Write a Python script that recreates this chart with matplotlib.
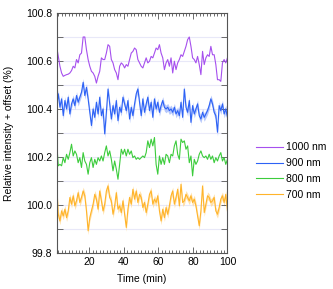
import matplotlib

matplotlib.use("Agg")
import matplotlib.pyplot as plt
import numpy as np
from matplotlib.ticker import MultipleLocator

plt.rcParams["font.family"] = ["Liberation Sans", "DejaVu Sans"]

# Relative intensity traces (one sample per minute-ish)
nm1000 = [100.661, 100.62, 100.578, 100.55, 100.536, 100.54, 100.543, 100.545, 100.55, 100.56,
          100.578, 100.571, 100.606, 100.592, 100.626, 100.633, 100.700, 100.700, 100.647, 100.606,
          100.578, 100.557, 100.550, 100.536, 100.508, 100.536, 100.557, 100.613, 100.606, 100.606,
          100.633, 100.668, 100.661, 100.606, 100.592, 100.564, 100.550, 100.522, 100.578, 100.592,
          100.585, 100.571, 100.585, 100.578, 100.606, 100.633, 100.640, 100.654, 100.647, 100.606,
          100.592, 100.578, 100.571, 100.592, 100.613, 100.592, 100.599, 100.619, 100.613, 100.633,
          100.654, 100.647, 100.668, 100.633, 100.613, 100.564, 100.592, 100.606, 100.578, 100.613,
          100.550, 100.599, 100.564, 100.592, 100.606, 100.626, 100.619, 100.640, 100.661, 100.689,
          100.700, 100.661, 100.613, 100.606, 100.592, 100.619, 100.585, 100.543, 100.640, 100.585,
          100.613, 100.626, 100.619, 100.661, 100.626, 100.626, 100.585, 100.522, 100.522, 100.515,
          100.592, 100.606, 100.592, 100.613]
nm900 = [100.414, 100.463, 100.407, 100.442, 100.372, 100.435, 100.400, 100.449, 100.379, 100.421,
         100.442, 100.414, 100.456, 100.428, 100.449, 100.469, 100.511, 100.456, 100.490, 100.442,
         100.386, 100.331, 100.400, 100.365, 100.428, 100.379, 100.449, 100.372, 100.400, 100.296,
         100.386, 100.483, 100.421, 100.358, 100.414, 100.379, 100.435, 100.351, 100.407, 100.386,
         100.449, 100.421, 100.393, 100.435, 100.358, 100.407, 100.372, 100.421, 100.463, 100.483,
         100.428, 100.372, 100.442, 100.386, 100.421, 100.449, 100.393, 100.428, 100.365, 100.442,
         100.400, 100.428, 100.386, 100.414, 100.435, 100.407, 100.400, 100.407, 100.393, 100.400,
         100.386, 100.407, 100.379, 100.393, 100.372, 100.428, 100.365, 100.483, 100.407, 100.386,
         100.435, 100.344, 100.414, 100.379, 100.400, 100.421, 100.372, 100.358, 100.386, 100.365,
         100.379, 100.393, 100.414, 100.442, 100.421, 100.386, 100.372, 100.303, 100.414, 100.393,
         100.421, 100.379, 100.400, 100.365]
nm800 = [100.267, 100.163, 100.169, 100.163, 100.197, 100.176, 100.211, 100.190, 100.218, 100.253,
         100.204, 100.225, 100.211, 100.176, 100.197, 100.156, 100.218, 100.183, 100.169, 100.128,
         100.176, 100.197, 100.156, 100.190, 100.169, 100.197, 100.183, 100.204, 100.183, 100.218,
         100.246, 100.204, 100.225, 100.190, 100.142, 100.183, 100.149, 100.107, 100.169, 100.232,
         100.211, 100.232, 100.204, 100.232, 100.211, 100.225, 100.197, 100.204, 100.190, 100.197,
         100.190, 100.197, 100.204, 100.197, 100.218, 100.267, 100.239, 100.274, 100.246, 100.281,
         100.169, 100.128, 100.204, 100.169, 100.197, 100.169, 100.211, 100.204, 100.176, 100.211,
         100.204, 100.246, 100.267, 100.211, 100.190, 100.274, 100.260, 100.267, 100.232, 100.246,
         100.176, 100.204, 100.121, 100.190, 100.169, 100.183, 100.211, 100.225, 100.204, 100.197,
         100.204, 100.190, 100.211, 100.190, 100.204, 100.176, 100.197, 100.183, 100.204, 100.218,
         100.183, 100.197, 100.169, 100.190]
nm700 = [100.086, 99.961, 99.933, 99.975, 99.954, 99.982, 99.947, 99.975, 100.031, 100.003,
         100.038, 99.996, 100.017, 100.051, 100.010, 100.031, 100.058, 100.038, 99.975, 99.892,
         99.947, 99.975, 100.003, 100.044, 100.024, 99.982, 100.058, 100.017, 99.975, 100.003,
         100.058, 100.079, 100.031, 100.017, 99.961, 99.996, 100.051, 99.982, 99.996, 99.968,
         100.017, 99.961, 99.906, 99.982, 100.031, 100.003, 100.065, 100.024, 100.058, 100.010,
         100.044, 100.031, 99.989, 100.010, 99.968, 100.003, 100.044, 100.058, 100.003, 100.024,
         100.010, 100.038, 99.975, 99.933, 99.982, 99.947, 99.989, 99.961, 99.996, 100.038,
         100.058, 100.003, 100.031, 100.065, 99.996, 100.086, 100.010, 100.017, 100.044, 100.031,
         100.017, 100.038, 100.010, 100.024, 99.996, 99.954, 99.913, 99.975, 100.079, 99.968,
         100.003, 100.038, 100.031, 100.010, 100.017, 100.031, 99.975, 99.961, 99.989, 100.024,
         100.038, 100.010, 100.044, 99.975]

labels = ["1000 nm", "900 nm", "800 nm", "700 nm"]
colors = ["#a650ee", "#2d62f5", "#3ccc3c", "#ffb42a"]
bands = [None, "#a9befc", None, "#ffdc9c"]

fig = plt.figure(figsize=(3.33, 2.89), dpi=100)
ax = fig.add_axes([0.170, 0.125, 0.513, 0.830])

for yv in np.arange(99.9, 100.75, 0.1):
    ax.axhline(yv, color="#e8e8f8", lw=0.8, zorder=0)

for series, label, color, band in zip([nm1000, nm900, nm800, nm700], labels, colors, bands):
    t = np.linspace(1, 100, len(series))
    y = np.array(series)
    if band is not None:
        ax.fill_between(t, y - 0.016, y + 0.016, color=band, lw=0, alpha=0.85, zorder=1)
    ax.plot(t, y, color=color, lw=0.8, label=label, zorder=2)

ax.set_xlim(1, 100)
ax.set_ylim(99.8, 100.8)
ax.xaxis.set_major_locator(MultipleLocator(20))
ax.xaxis.set_minor_locator(MultipleLocator(2))
ax.yaxis.set_major_locator(MultipleLocator(0.2))
ax.yaxis.set_minor_locator(MultipleLocator(0.1))
ax.yaxis.set_major_formatter(matplotlib.ticker.FormatStrFormatter("%.1f"))
ax.tick_params(which="both", direction="in", top=True, right=True, colors="#555555",
               labelcolor="black", labelsize=7.5, width=0.6)
ax.tick_params(which="major", length=4, pad=3)
ax.tick_params(which="minor", length=2)
ax.tick_params(axis="y", which="minor", length=4)
for spine in ax.spines.values():
    spine.set_color("#555555")
    spine.set_linewidth(0.8)

ax.set_xlabel("Time (min)", fontsize=7.5, labelpad=5)
ax.set_ylabel("Relative intensity + offset (%)", fontsize=7.5, labelpad=9)

fig.legend(loc="center left", bbox_to_anchor=(0.755, 0.408), frameon=False,
           fontsize=7.5, handlelength=2.6, labelspacing=0.55, borderaxespad=0,
           handletextpad=0.3)

fig.savefig("out.png", dpi=100)
